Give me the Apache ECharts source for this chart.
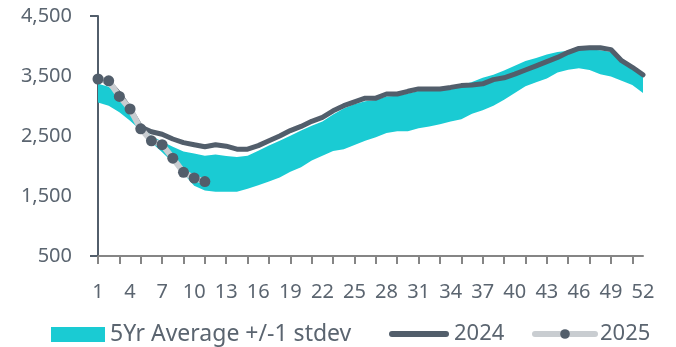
<!DOCTYPE html>
<html>
<head>
<meta charset="utf-8">
<script src="https://cdn.jsdelivr.net/npm/echarts@6/dist/echarts.min.js"></script>
<style>
  html, body { margin: 0; padding: 0; background: #fff; }
  #main { width: 676px; height: 347px; }
</style>
</head>
<body>
<div id="main"></div>
<script>
// weeks 1..52
var weeks = [];
for (var w = 1; w <= 52; w++) weeks.push(String(w));

var bandLow = [3060, 3005, 2895, 2755, 2590, 2390, 2230, 2060, 1870, 1670,
  1590, 1570, 1570, 1570, 1620, 1680, 1740, 1810, 1905, 1980,
  2090, 2170, 2250, 2280, 2350, 2420, 2480, 2550, 2580, 2580,
  2630, 2660, 2695, 2740, 2780, 2870, 2930, 3005, 3105, 3215,
  3330, 3395, 3460, 3560, 3605, 3630, 3600, 3530, 3490, 3420,
  3350, 3215];
var bandHigh = [3370, 3320, 3170, 2980, 2680, 2500, 2410, 2320, 2240, 2210,
  2170, 2190, 2165, 2150, 2170, 2255, 2340, 2420, 2505, 2590,
  2670, 2740, 2860, 2960, 3030, 3080, 3100, 3160, 3170, 3210,
  3250, 3260, 3270, 3300, 3350, 3400, 3470, 3520, 3590, 3670,
  3750, 3800, 3860, 3900, 3920, 3930, 3940, 3930, 3900, 3740,
  3630, 3490];
var y2024 = [3450, 3400, 3200, 2950, 2650, 2570, 2530, 2450, 2390, 2355,
  2320, 2355, 2330, 2280, 2280, 2340, 2420, 2500, 2590, 2660,
  2745, 2810, 2920, 3005, 3070, 3130, 3130, 3200, 3200, 3245,
  3285, 3285, 3285, 3310, 3340, 3350, 3370, 3440, 3470, 3530,
  3600, 3670, 3740, 3810, 3895, 3960, 3970, 3970, 3940, 3755,
  3645, 3520];
var y2025 = [3450, 3420, 3160, 2950, 2620, 2420, 2355, 2130, 1895, 1800, 1740];

var bandName = "5Yr Average +/-1 stdev";
var cyan = "#1ACBD3";
var slate = "#525E6B";
var lightGray = "#C9CDD1";
var textColor = "#5B6570";
var fontFam = "Noto Sans";

// band is drawn as a stacked pair: low (invisible) + width
var bandWidth = [];
for (var i = 0; i < bandLow.length; i++) bandWidth.push(bandHigh[i] - bandLow[i]);

var myChart = echarts.init(document.getElementById("main"));
var option = {
  animation: false,
  grid: { left: 98, right: 33, top: 16, bottom: 91 },
  legend: [
    {
      left: 46,
      top: 318,
      itemWidth: 54,
      itemHeight: 15,
      data: [{ name: bandName, icon: "rect" }],
      textStyle: { color: textColor, fontSize: 23, fontFamily: fontFam },
    },
    {
      left: 384,
      top: 318,
      itemWidth: 60,
      itemHeight: 6,
      data: [{ name: "2024", icon: "path://M3,0 L57,0 A3,3 0 0 1 57,6 L3,6 A3,3 0 0 1 3,0 Z" }],
      textStyle: { color: textColor, fontSize: 22, fontFamily: fontFam },
    },
    {
      left: 527,
      top: 318,
      itemWidth: 60,
      itemHeight: 12,
      data: ["2025"],
      lineStyle: { width: 6, cap: "round" },
      textStyle: { color: textColor, fontSize: 22, fontFamily: fontFam },
    },
  ],
  xAxis: {
    type: "category",
    data: weeks,
    boundaryGap: false,
    axisLine: { lineStyle: { color: "#858585", width: 2 } },
    axisTick: { interval: 1, length: 8, lineStyle: { color: "#858585", width: 2 } },
    axisLabel: {
      interval: 2,
      margin: 26,
      color: textColor,
      fontSize: 20,
      fontFamily: fontFam,
    },
  },
  yAxis: {
    type: "value",
    min: 500,
    max: 4500,
    interval: 1000,
    splitLine: { show: false },
    axisLine: { show: true, lineStyle: { color: slate, width: 2 } },
    axisTick: { show: true, customValues: [500, 4500], length: 8, lineStyle: { color: slate, width: 2 } },
    axisLabel: {
      margin: 26,
      color: textColor,
      fontSize: 20,
      fontFamily: fontFam,
      formatter: function (v) { return v.toLocaleString("en-US"); },
    },
  },
  series: [
    {
      name: "low",
      type: "line",
      stack: "band",
      data: bandLow,
      symbol: "none",
      lineStyle: { width: 0 },
      silent: true,
    },
    {
      name: bandName,
      type: "line",
      stack: "band",
      data: bandWidth,
      symbol: "none",
      color: cyan,
      lineStyle: { width: 0 },
      areaStyle: { color: cyan, opacity: 1 },
    },
    {
      name: "2024",
      type: "line",
      data: y2024,
      symbol: "none",
      color: slate,
      lineStyle: { color: slate, width: 5, cap: "round", join: "round" },
    },
    {
      name: "2025",
      type: "line",
      data: y2025,
      symbol: "circle",
      symbolSize: 11,
      showAllSymbol: true,
      itemStyle: { color: slate },
      lineStyle: { color: lightGray, width: 6, cap: "round", join: "round" },
    },
  ],
};
option && myChart.setOption(option);
</script>
</body>
</html>
